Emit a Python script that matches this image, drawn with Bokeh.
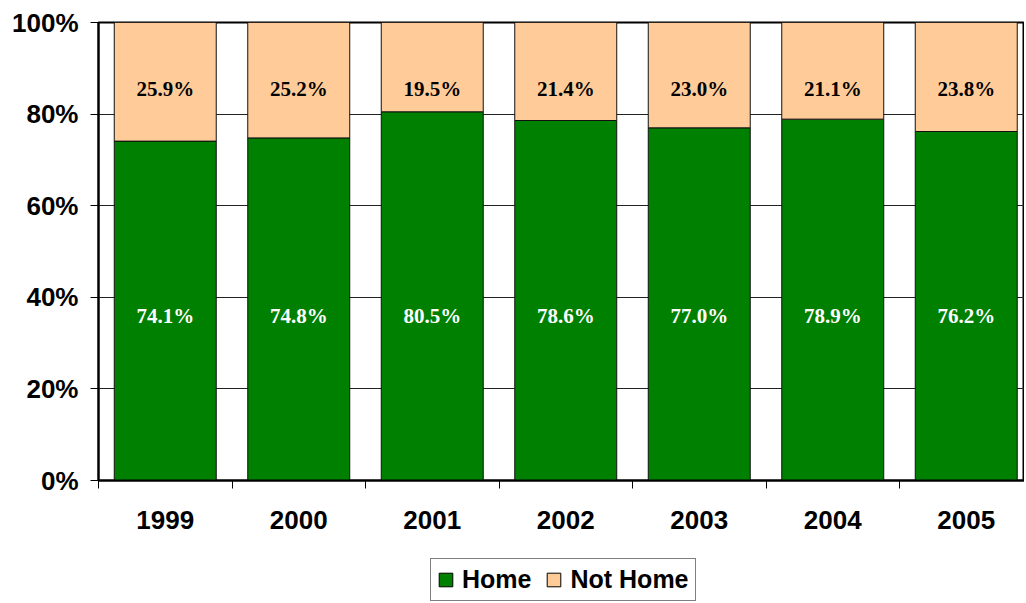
from bokeh.plotting import figure
from bokeh.layouts import column
from bokeh.models import ColumnDataSource, FixedTicker, Legend, LegendItem, Range1d, NumeralTickFormatter
from bokeh.core.properties import value
from bokeh.embed import file_html
from bokeh.resources import INLINE

years = ["1999", "2000", "2001", "2002", "2003", "2004", "2005"]
home = [74.1, 74.8, 80.5, 78.6, 77.0, 78.9, 76.2]
not_home = [25.9, 25.2, 19.5, 21.4, 23.0, 21.1, 23.8]
y_ticks = [0, 20, 40, 60, 80, 100]
series_names = ["Home", "Not Home"]
series_colors = ["#008000", "#FFCC99"]

centers = [i + 0.5 for i in range(len(years))]
bounds = [float(i) for i in range(len(years) + 1)]

src = ColumnDataSource(dict(
    x=centers,
    home=[h / 100 for h in home],
    top=[1.0] * len(years),
    home_lbl=[f"{h:.1f}%" for h in home],
    not_lbl=[f"{n:.1f}%" for n in not_home],
    y_home=[0.36] * len(years),
    y_not=[0.855] * len(years),
))

W = 1024
p = figure(width=W, height=540, output_backend="svg", toolbar_location=None,
           x_range=Range1d(0, 926 / 133.5), y_range=Range1d(0, 1),
           min_border_left=98, min_border_right=0, min_border_top=22, min_border_bottom=60)
p.background_fill_color = "white"
p.border_fill_color = "white"
p.outline_line_color = "black"
p.outline_line_width = 2

p.vbar(x="x", width=0.764, bottom=0, top="home", source=src,
       fill_color=series_colors[0], line_color="#111111", line_width=1)
p.vbar(x="x", width=0.764, bottom="home", top="top", source=src,
       fill_color=series_colors[1], line_color="#111111", line_width=1)

p.text(x="x", y="y_home", text="home_lbl", source=src, text_color="white",
       text_font=value("Liberation Serif"), text_font_style="bold", text_font_size="21px",
       text_align="center", text_baseline="middle")
p.text(x="x", y="y_not", text="not_lbl", source=src, text_color="black",
       text_font=value("Liberation Serif"), text_font_style="bold", text_font_size="21px",
       text_align="center", text_baseline="middle")

# grid
p.xgrid.visible = False
p.ygrid.ticker = FixedTicker(ticks=[t / 100 for t in y_ticks])
p.ygrid.grid_line_color = "#222222"
p.ygrid.grid_line_width = 1

# y axis
p.yaxis.ticker = FixedTicker(ticks=[t / 100 for t in y_ticks])
p.yaxis.formatter = NumeralTickFormatter(format="0%")
p.yaxis.major_label_text_font = "Liberation Sans"
p.yaxis.major_label_text_font_style = "bold"
p.yaxis.major_label_text_font_size = "26px"
p.yaxis.major_label_text_color = "black"
p.yaxis.major_tick_out = 8
p.yaxis.major_tick_in = 0
p.yaxis.minor_tick_line_color = None
p.yaxis.major_label_standoff = 12
p.yaxis.axis_line_color = "black"
p.yaxis.axis_line_width = 2

# x axis
p.xaxis.ticker = FixedTicker(ticks=centers, minor_ticks=bounds)
p.xaxis.major_label_overrides = {c: y for c, y in zip(centers, years)}
p.xaxis.major_label_text_font = "Liberation Sans"
p.xaxis.major_label_text_font_style = "bold"
p.xaxis.major_label_text_font_size = "26px"
p.xaxis.major_label_text_color = "black"
p.xaxis.major_tick_out = 0
p.xaxis.major_tick_in = 0
p.xaxis.minor_tick_out = 8
p.xaxis.minor_tick_in = 0
p.xaxis.minor_tick_line_color = "black"
p.xaxis.major_label_standoff = 22
p.xaxis.axis_line_color = "black"
p.xaxis.axis_line_width = 2

# legend in its own strip below the chart (frame aligned with the chart frame)
lf = figure(width=W, height=62, output_backend="svg", toolbar_location=None,
            x_range=Range1d(0, 1), y_range=Range1d(0, 1),
            x_axis_location=None, y_axis_location=None,
            min_border_left=0, min_border_right=0, min_border_top=0, min_border_bottom=0)
lf.outline_line_color = None
lf.xgrid.visible = False
lf.ygrid.visible = False
lr = []
for c in series_colors:
    dummy = ColumnDataSource(dict(x=[-10.0], top=[0.0]))
    lr.append(lf.vbar(x="x", top="top", width=0.1, source=dummy,
                      fill_color=c, line_color="black", line_width=1))
legend = Legend(items=[LegendItem(label=n, renderers=[r]) for n, r in zip(series_names, lr)],
                orientation="horizontal", location=(332, 1))
legend.label_text_font = "Liberation Sans"
legend.label_text_font_style = "bold"
legend.label_text_font_size = "25px"
legend.label_text_color = "black"
legend.glyph_width = 17
legend.glyph_height = 17
legend.label_standoff = 8
legend.spacing = 14
legend.padding = 6
legend.margin = 0
legend.border_line_color = "black"
legend.border_line_width = 1
legend.background_fill_color = "white"
lf.add_layout(legend, "center")

layout = column(p, lf, spacing=0)
open("out.html", "w").write(file_html(layout, INLINE))
